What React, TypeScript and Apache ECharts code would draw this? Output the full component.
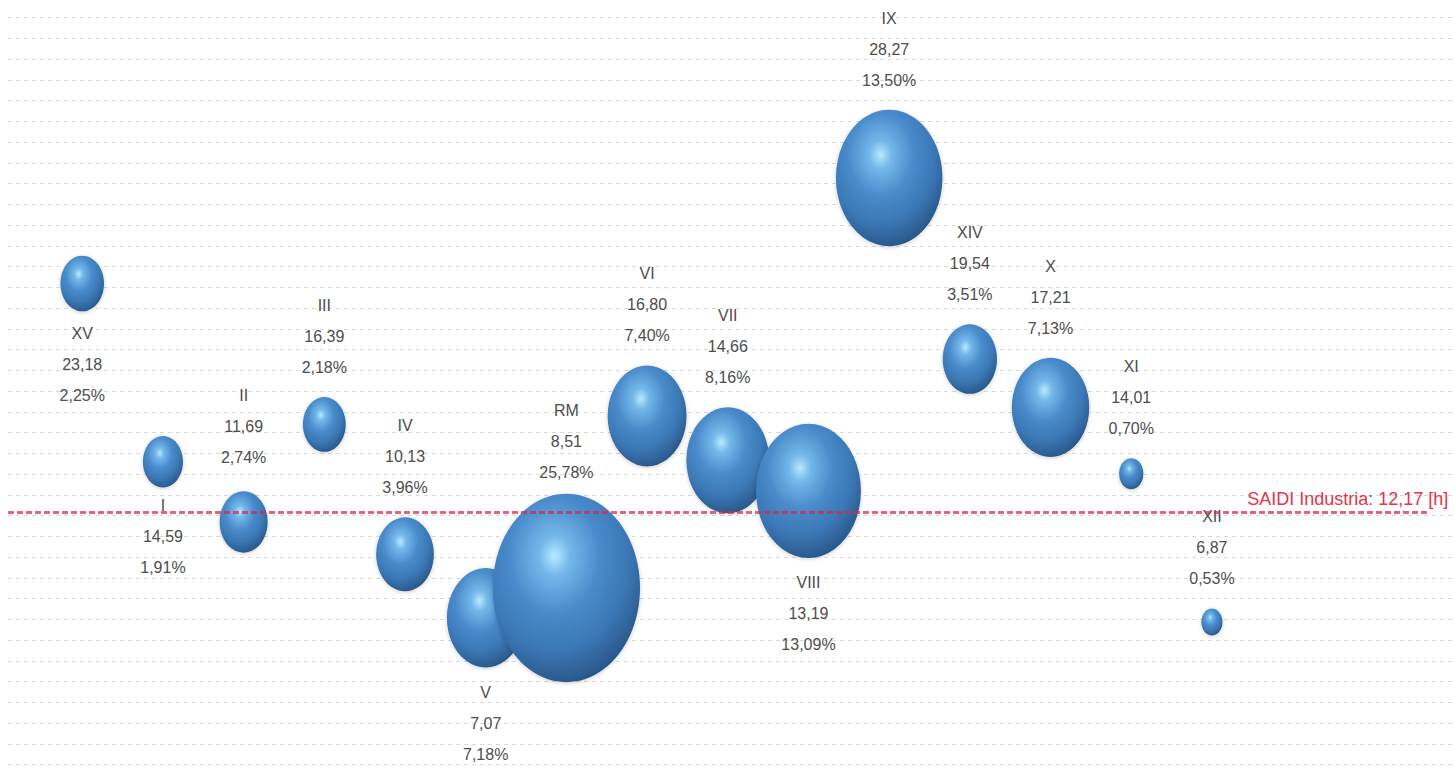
import React, { useEffect, useRef } from "react";
import * as echarts from "echarts";

// Regions ordered north to south (x = order in list)
const regions = ["XV", "I", "II", "III", "IV", "V", "RM", "VI", "VII", "VIII", "IX", "XIV", "X", "XI", "XII"];
// SAIDI [h] per region
const saidiHours = [23.18, 14.59, 11.69, 16.39, 10.13, 7.07, 8.51, 16.8, 14.66, 13.19, 28.27, 19.54, 17.21, 14.01, 6.87];
// Share of customers [%] (bubble size)
const sharePct = [2.25, 1.91, 2.74, 2.18, 3.96, 7.18, 25.78, 7.4, 8.16, 13.09, 13.5, 3.51, 7.13, 0.7, 0.53];
// Industry reference value
const industrySaidi = 12.17;
const industryLabel = "SAIDI Industria: 12,17 [h]";

// label placement (style only)
const labelsBelow = ["XV", "I", "V", "VIII"];
const labelGap: Record<string, number> = { RM: 6, I: 3, II: 18, XV: 7 };

const fmt = (v: number) => v.toFixed(2).replace(".", ",");

const X_MIN = 0.08;
const X_MAX = 18;
const LINE_END = 17.67;

export default function App() {
  const ref = useRef<HTMLDivElement>(null);

  useEffect(() => {
    if (!ref.current) return;
    const chart = echarts.init(ref.current, undefined, { renderer: "svg" });

    const bubbleFill = new echarts.graphic.RadialGradient(0.42, 0.33, 0.8, [
      { offset: 0, color: "#b8eaff" },
      { offset: 0.13, color: "#74b8ea" },
      { offset: 0.38, color: "#4a8bcb" },
      { offset: 0.62, color: "#3b78b6" },
      { offset: 0.82, color: "#2b5d91" },
      { offset: 1, color: "#173c63" },
    ]);

    const data = regions.map((name, i) => {
      const below = labelsBelow.includes(name);
      const gap = labelGap[name] !== undefined ? labelGap[name] : below ? 9 : 14;
      return {
        name,
        value: [i + 1, saidiHours[i], sharePct[i]],
        label: { position: below ? "bottom" : "top", distance: gap },
      };
    });

    chart.setOption({
      animation: false,
      backgroundColor: "#ffffff",
      grid: { left: 8, right: 0, top: 17.5, bottom: 9.5, containLabel: false },
      xAxis: {
        type: "value",
        min: X_MIN,
        max: X_MAX,
        show: false,
        splitLine: { show: false },
      },
      yAxis: {
        type: "value",
        min: 0,
        max: 36,
        interval: 1,
        axisLine: { show: false },
        axisTick: { show: false },
        axisLabel: { show: false },
        splitLine: { show: true, lineStyle: { color: "#d9d9d9", width: 1, type: [4, 4] } },
      },
      series: [
        {
          type: "scatter",
          data,
          symbol: "circle",
          symbolSize: (val: number[]) => {
            const w = 29 * Math.sqrt(val[2]);
            return [w, w * 1.28];
          },
          itemStyle: {
            color: bubbleFill,
            opacity: 1,
            shadowBlur: 4,
            shadowColor: "rgba(0,0,0,0.2)",
            shadowOffsetY: 1,
          },
          label: {
            show: true,
            formatter: (p: any) => `${p.name}\n${fmt(p.value[1])}\n${fmt(p.value[2])}%`,
            color: "#4d4d4d",
            fontSize: 16,
            lineHeight: 31,
            fontFamily: "Liberation Sans, Arial, sans-serif",
            align: "center",
          },
          emphasis: { disabled: true },
          z: 2,
        },
        {
          type: "scatter",
          data: [],
          z: 5,
          markLine: {
            silent: true,
            symbol: "none",
            lineStyle: { color: "rgba(215,40,75,0.72)", width: 3, type: [6, 3] },
            label: {
              show: true,
              formatter: industryLabel,
              position: "insideEndTop",
              color: "#e2364a",
              fontSize: 18,
              fontFamily: "Liberation Sans, Arial, sans-serif",
              distance: 4,
              offset: [25, 0],
            },
            data: [[{ coord: [X_MIN, industrySaidi] }, { coord: [LINE_END, industrySaidi] }]],
          },
        },
      ],
    });

    return () => chart.dispose();
  }, []);

  return (
    <div
      ref={ref}
      style={{ position: "fixed", left: 0, top: 0, width: 1454, height: 774, background: "#fff" }}
    />
  );
}
